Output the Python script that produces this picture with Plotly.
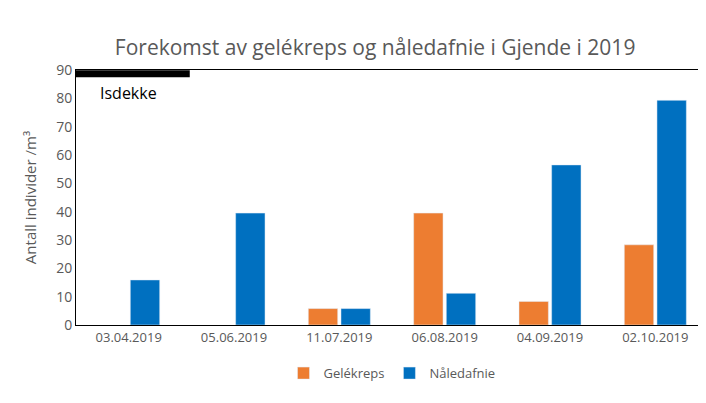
import plotly.graph_objects as go

dates = ["03.04.2019", "05.06.2019", "11.07.2019", "06.08.2019", "04.09.2019", "02.10.2019"]
gelekreps = [None, None, 5.8, 39.5, 8.3, 28.3]
naledafnie = [15.9, 39.5, 5.8, 11.2, 56.5, 79.3]

fig = go.Figure()
fig.add_bar(x=dates, y=gelekreps, name="Gelékreps", marker_color="#ED7D31")
fig.add_bar(x=dates, y=naledafnie, name="Nåledafnie", marker_color="#0070C0")

# ice cover marker
fig.add_shape(type="line", xref="paper", yref="paper", x0=0, x1=0.18, y0=0.985, y1=0.985,
              line=dict(color="black", width=7))
fig.add_annotation(text="Isdekke", xref="paper", yref="paper", x=0.035, y=0.91,
                   xanchor="left", yanchor="middle", showarrow=False,
                   font=dict(size=16, color="black"))

fig.update_layout(
    width=706, height=403,
    font=dict(family="Open Sans, Liberation Sans, sans-serif", color="#595959", size=13),
    title=dict(text="Forekomst av gelékreps og nåledafnie i Gjende i 2019", x=0.52, y=0.92,
               xanchor="center", font=dict(size=21, color="#595959")),
    plot_bgcolor="white", paper_bgcolor="white",
    barmode="group", bargap=0.38, bargroupgap=0.1,
    margin=dict(l=68, r=6, t=62, b=86),
    legend=dict(orientation="h", x=0.5, xanchor="center", y=-0.13, yanchor="top",
                font=dict(size=13)),
)
fig.update_yaxes(range=[0, 90], dtick=10, showline=True, linecolor="black", mirror=True,
                 showgrid=False, ticks="", title=dict(text="Antall individer /m³", font=dict(size=15)),
                 tickfont=dict(size=14))
fig.update_xaxes(showline=True, linecolor="black", mirror=True, tickfont=dict(size=13))
fig.write_html("out.html")
